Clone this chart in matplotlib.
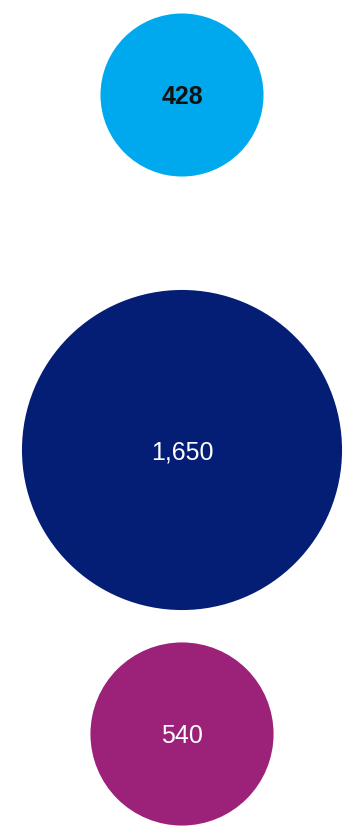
import matplotlib
matplotlib.use('Agg')
import matplotlib.pyplot as plt
import numpy as np

# Bubble values, top to bottom
values = [428, 1650, 540]
labels = ['428', '1,650', '540']
colors = ['#00A9EE', '#041E76', '#9C2178']
text_colors = ['#111111', '#FFFFFF', '#FFFFFF']

W, H = 359, 830
fig = plt.figure(figsize=(W / 100, H / 100), dpi=100)
ax = fig.add_axes([0, 0, 1, 1])
ax.set_xlim(0, W)
ax.set_ylim(H, 0)
ax.set_aspect('equal')
ax.axis('off')

# area proportional to value
scale = 3.94
cx = 182
cys = [95, 450, 734]
weights = ['bold', 'normal', 'normal']

for v, lab, c, tc, cy, wt in zip(values, labels, colors, text_colors, cys, weights):
    r = scale * np.sqrt(v)
    ax.add_patch(plt.Circle((cx, cy), r, color=c, lw=0))
    ax.text(cx, cy + 2, lab, ha='center', va='center', color=tc,
            fontsize=18, family='Liberation Sans', fontweight=wt)

fig.savefig('out.png', dpi=100)
